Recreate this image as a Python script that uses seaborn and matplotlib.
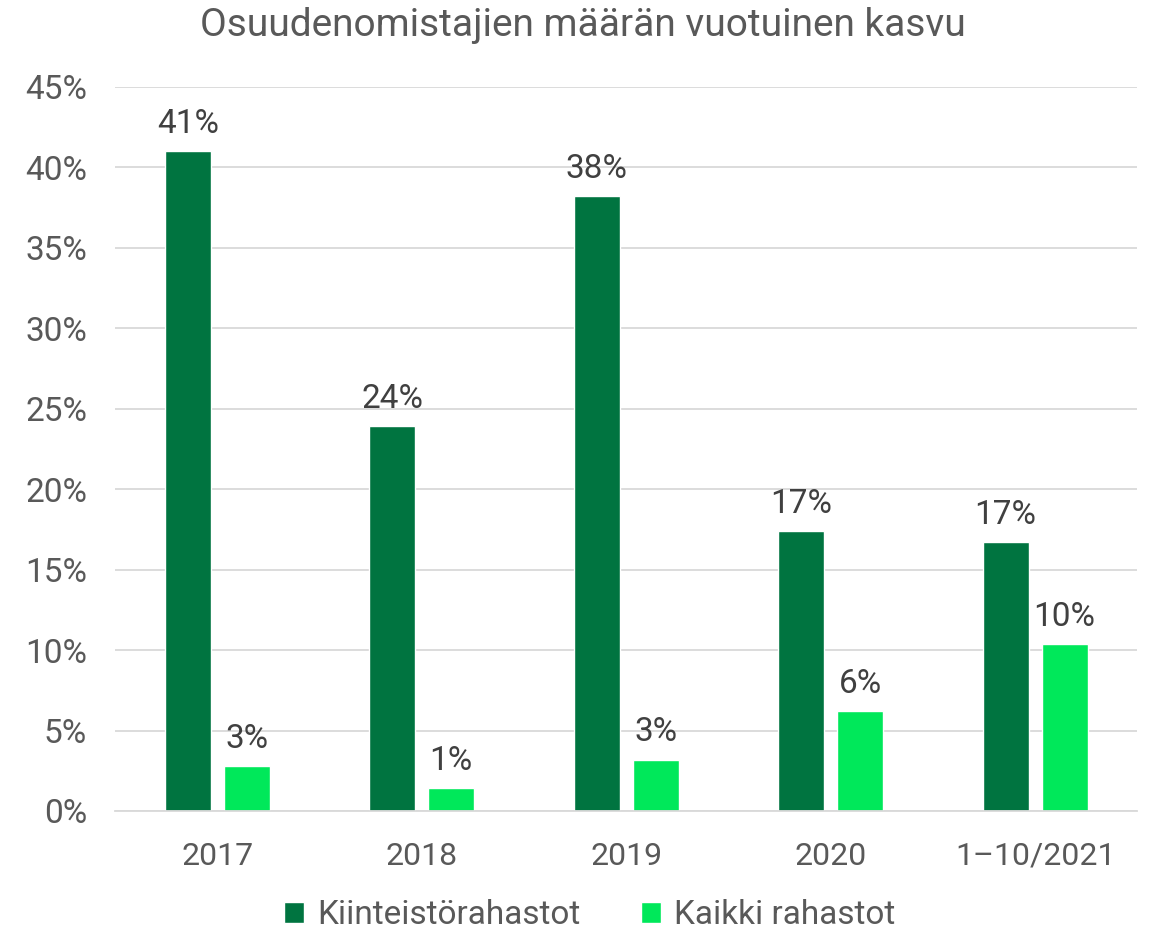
import matplotlib
matplotlib.use("Agg")
import matplotlib.pyplot as plt
import pandas as pd
import seaborn as sns

# data
years = ["2017", "2018", "2019", "2020", "1–10/2021"]
kiinteisto = [41.0, 23.9, 38.2, 17.4, 16.7]
kaikki = [2.8, 1.4, 3.2, 6.2, 10.4]
series = ["Kiinteistörahastot", "Kaikki rahastot"]
colors = ["#007440", "#00E85A"]

df = pd.DataFrame({
    "vuosi": years * 2,
    "arvo": kiinteisto + kaikki,
    "sarja": [series[0]] * len(years) + [series[1]] * len(years),
})

sns.set_style("white")
plt.rcParams["font.family"] = ["Roboto", "DejaVu Sans"]

fig = plt.figure(figsize=(11.5, 9.34), dpi=100)
ax = fig.add_axes([0.1, 0.1317, 0.889, 0.7752])

sns.barplot(data=df, x="vuosi", y="arvo", hue="sarja", palette=colors,
            width=0.576, gap=0.22, ax=ax, legend=True, saturation=1)

# value labels
for cont in ax.containers:
    ax.bar_label(cont, labels=[f"{v:.0f}%" for v in cont.datavalues],
                 padding=8, fontsize=24, color="#404040")

ax.set_ylim(0, 45)
ax.set_yticks(range(0, 46, 5))
ax.set_yticklabels([f"{t}%" for t in range(0, 46, 5)])
ax.yaxis.grid(True, color="#d9d9d9", linewidth=1.3)
ax.set_axisbelow(True)
ax.tick_params(axis="y", labelsize=24, colors="#595959", length=0, pad=20)
ax.tick_params(axis="x", labelsize=23, colors="#595959", length=0, pad=22)
ax.set_xlabel("")
ax.set_ylabel("")
for s in ["top", "right", "left"]:
    ax.spines[s].set_visible(False)
ax.spines["bottom"].set_color("#d9d9d9")
ax.spines["bottom"].set_linewidth(1.3)
ax.set_xlim(-0.5, 4.5)

fig.text(0.507, 0.973, "Osuudenomistajien määrän vuotuinen kasvu",
         fontsize=28, color="#595959", ha="center", va="center")

handles, labels = ax.get_legend_handles_labels()
ax.get_legend().remove()
fig.legend(handles, labels, loc="center", bbox_to_anchor=(0.513, 0.02),
           ncol=2, frameon=False, fontsize=24, labelcolor="#595959",
           handlelength=0.6, handleheight=0.6, handletextpad=0.4,
           columnspacing=1.8)

fig.savefig("out.png", dpi=100)
